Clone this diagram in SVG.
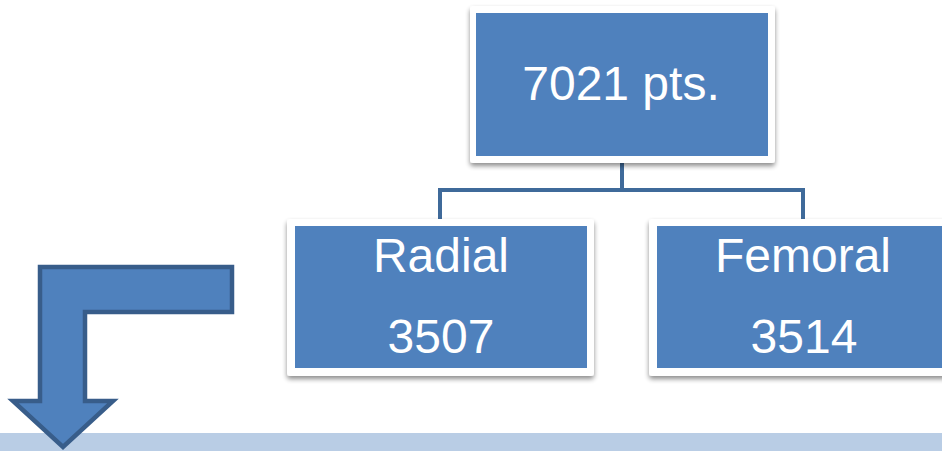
<svg xmlns="http://www.w3.org/2000/svg" width="942" height="451" viewBox="0 0 942 451">
<defs>
<filter id="sh" x="-10%" y="-10%" width="120%" height="130%">
<feGaussianBlur in="SourceAlpha" stdDeviation="2.5"/>
<feOffset dx="0" dy="3" result="b"/>
<feComponentTransfer><feFuncA type="linear" slope="0.45"/></feComponentTransfer>
<feMerge><feMergeNode/><feMergeNode in="SourceGraphic"/></feMerge>
</filter>
</defs>
<style>
.frame{fill:#ffffff;filter:url(#sh)}
.box{fill:#4F81BD}
.t{font-family:"Liberation Sans",Arial,sans-serif;font-size:48px;fill:#ffffff;text-anchor:middle}
.conn{fill:none;stroke:#3F6A9A;stroke-width:4}
</style>
<rect x="0" y="433" width="942" height="18" fill="#B9CDE5"/>
<g id="connectors">
<path class="conn" d="M622,163 V190"/>
<path class="conn" d="M440,220 V190 H803 V220"/>
</g>
<g id="root">
<rect class="frame" x="470" y="6" width="305" height="157" rx="3"/>
<rect class="box" x="476" y="13" width="292" height="143"/>
<text class="t" x="621" y="100">7021 pts.</text>
</g>
<g id="radial">
<rect class="frame" x="287" y="219" width="307" height="157" rx="3"/>
<rect class="box" x="295" y="226" width="292" height="142"/>
<text class="t" x="441" y="272">Radial</text>
<text class="t" x="441" y="353">3507</text>
</g>
<g id="femoral">
<rect class="frame" x="649" y="219" width="307" height="157" rx="3"/>
<rect class="box" x="657" y="226" width="292" height="142"/>
<text class="t" x="803" y="272">Femoral</text>
<text class="t" x="804" y="353">3514</text>
</g>
<g id="arrow">
<path d="M40,267 H232 V312 H85 V401 H113 L63,447 L13,401 H40 Z" fill="#4F81BD" stroke="#385D8A" stroke-width="4.5" stroke-linejoin="miter"/>
</g>
</svg>
